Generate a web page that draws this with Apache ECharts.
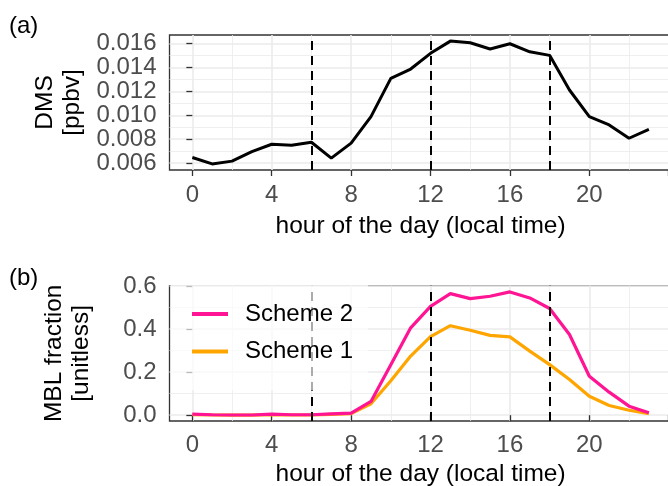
<!DOCTYPE html>
<html>
<head>
<meta charset="utf-8">
<script src="https://cdn.jsdelivr.net/npm/echarts@6/dist/echarts.min.js"></script>
<style>html,body{margin:0;padding:0;background:#fff;}#c{width:668px;height:486px;}</style>
</head>
<body>
<div id="c"></div>
<script>
const hours = [0,1,2,3,4,5,6,7,8,9,10,11,12,13,14,15,16,17,18,19,20,21,22,23];
const dms = [0.00647,0.00594,0.00617,0.00697,0.00758,0.00750,0.00775,0.00642,0.00767,0.00989,0.01308,0.01386,0.01517,0.01619,0.01605,0.01553,0.01597,0.01530,0.01500,0.01211,0.00989,0.00919,0.00808,0.00883];
const scheme2 = [0.005,0.002,0.001,0.001,0.005,0.002,0.002,0.006,0.010,0.064,0.235,0.406,0.506,0.565,0.542,0.553,0.573,0.545,0.496,0.375,0.181,0.107,0.042,0.011];
const scheme1 = [0.003,0.001,0.000,0.000,0.003,0.001,0.001,0.004,0.007,0.053,0.160,0.275,0.365,0.416,0.395,0.371,0.364,0.298,0.235,0.166,0.088,0.045,0.023,0.007];
const xMajor = [0,4,8,12,16,20,24];
const xMinor = [2,6,10,14,18,22];
const yMajorA = [0.006,0.008,0.010,0.012,0.014,0.016];
const yMinorA = [0.007,0.009,0.011,0.013,0.015];
const yMajorB = [0.0,0.2,0.4,0.6];
const yMinorB = [0.1,0.3,0.5];
const vlines = [6,12,18];

const FF = 'Liberation Sans, Arial, sans-serif';
const X_MIN = -1.15, X_MAX = 24.15;
const chart = echarts.init(document.getElementById('c'), null, {renderer:'canvas', width:668, height:486});

function pairs(ys){ return hours.map((h,i)=>[h, ys[i]]); }

const tickStyle = {show:true, length:6, inside:false, lineStyle:{color:'#333333', width:1.3}};
const labelStyle = {color:'#4D4D4D', fontSize:24, fontFamily:FF};
const nameStyle = {color:'#000', fontSize:24.5, fontFamily:FF};

function mainX(grid, gap, margin){
  return {type:'value', gridIndex:grid, min:X_MIN, max:X_MAX, position:'bottom',
    axisLine:{show:false},
    axisTick:Object.assign({customValues:xMajor}, tickStyle),
    axisLabel:Object.assign({customValues:xMajor.slice(0,6), margin:margin, formatter:v=>String(v)}, labelStyle),
    splitLine:{show:true, lineStyle:{color:'#EBEBEB', width:1.6}},
    name:'hour of the day (local time)', nameLocation:'middle', nameGap:gap, nameTextStyle:nameStyle};
}
function minorX(grid){
  return {type:'value', gridIndex:grid, min:X_MIN, max:X_MAX, position:'top',
    axisLine:{show:false}, axisLabel:{show:false},
    axisTick:{show:true, length:0, customValues:xMinor, lineStyle:{width:0}},
    splitLine:{show:true, lineStyle:{color:'#EBEBEB', width:0.8}}};
}
function mainY(grid, mn, mx, major, dec, name, gap){
  return {type:'value', gridIndex:grid, min:mn, max:mx, position:'left',
    axisLine:{show:false},
    axisTick:Object.assign({customValues:major}, tickStyle),
    axisLabel:Object.assign({customValues:major, margin:13, formatter:v=>v.toFixed(dec)}, labelStyle),
    splitLine:{show:true, lineStyle:{color:'#EBEBEB', width:1.6}},
    name:name, nameLocation:'middle', nameGap:gap, nameRotate:90,
    nameTextStyle:Object.assign({lineHeight:27, align:'center'}, nameStyle)};
}
function minorY(grid, mn, mx, minor){
  return {type:'value', gridIndex:grid, min:mn, max:mx, position:'right',
    axisLine:{show:false}, axisLabel:{show:false},
    axisTick:{show:true, length:0, customValues:minor, lineStyle:{width:0}},
    splitLine:{show:true, lineStyle:{color:'#EBEBEB', width:0.8}}};
}
const vlineMark = {silent:true, symbol:['none','none'], label:{show:false},
  lineStyle:{color:'#000', width:2, type:[9,6]},
  data: vlines.map(v=>({xAxis:v}))};

chart.setOption({
  animation:false,
  backgroundColor:'#fff',
  textStyle:{fontFamily:FF},
  grid:[
    {left:169.5, top:35, height:135, right:-3.7, show:true, borderColor:'#333333', borderWidth:1.3, backgroundColor:'transparent', outerBoundsMode:'none', containLabel:false},
    {left:169.5, top:285.7, height:135.3, right:-3.7, show:true, borderColor:'#333333', borderWidth:1.3, backgroundColor:'transparent', outerBoundsMode:'none', containLabel:false}
  ],
  xAxis:[ mainX(0, 43.5, 13), minorX(0), mainX(1, 41, 12), minorX(1) ],
  yAxis:[
    mainY(0, 0.00543, 0.0167, yMajorA, 3, 'DMS\n[ppbv]', 74),
    mainY(1, -0.027, 0.602, yMajorB, 1, 'MBL fraction\n[unitless]', 75),
    minorY(0, 0.00543, 0.0167, yMinorA),
    minorY(1, -0.027, 0.602, yMinorB)
  ].sort((a,b)=>0),
  legend:{
    data:['Scheme 2','Scheme 1'], orient:'vertical', left:171, top:276,
    padding:[26,15,27,21], backgroundColor:'rgba(255,255,255,0.67)',
    itemWidth:36, itemHeight:4, itemGap:13.4, icon:'rect', selectedMode:false,
    textStyle:{fontSize:24, color:'#000', fontFamily:FF, lineHeight:24, padding:[0,0,0,12]},
    z:10
  },
  graphic:[
    {type:'text', left:9, top:14, style:{text:'(a)', fontSize:24, fontFamily:FF, fill:'#000'}},
    {type:'text', left:9, top:266, style:{text:'(b)', fontSize:24, fontFamily:FF, fill:'#000'}}
  ],
  series:[
    {name:'DMS', type:'line', xAxisIndex:0, yAxisIndex:0, data:pairs(dms), showSymbol:false, symbol:'none',
     lineStyle:{color:'#000', width:3}, itemStyle:{color:'#000'}, markLine:vlineMark, z:3, silent:true},
    {name:'Scheme 1', type:'line', xAxisIndex:2, yAxisIndex:1, data:pairs(scheme1), showSymbol:false, symbol:'none',
     lineStyle:{color:'#FFA500', width:3.2}, itemStyle:{color:'#FFA500'}, markLine:vlineMark, z:3, silent:true},
    {name:'Scheme 2', type:'line', xAxisIndex:2, yAxisIndex:1, data:pairs(scheme2), showSymbol:false, symbol:'none',
     lineStyle:{color:'#FF1493', width:3.2}, itemStyle:{color:'#FF1493'}, z:4, silent:true}
  ]
});
</script>
</body>
</html>
